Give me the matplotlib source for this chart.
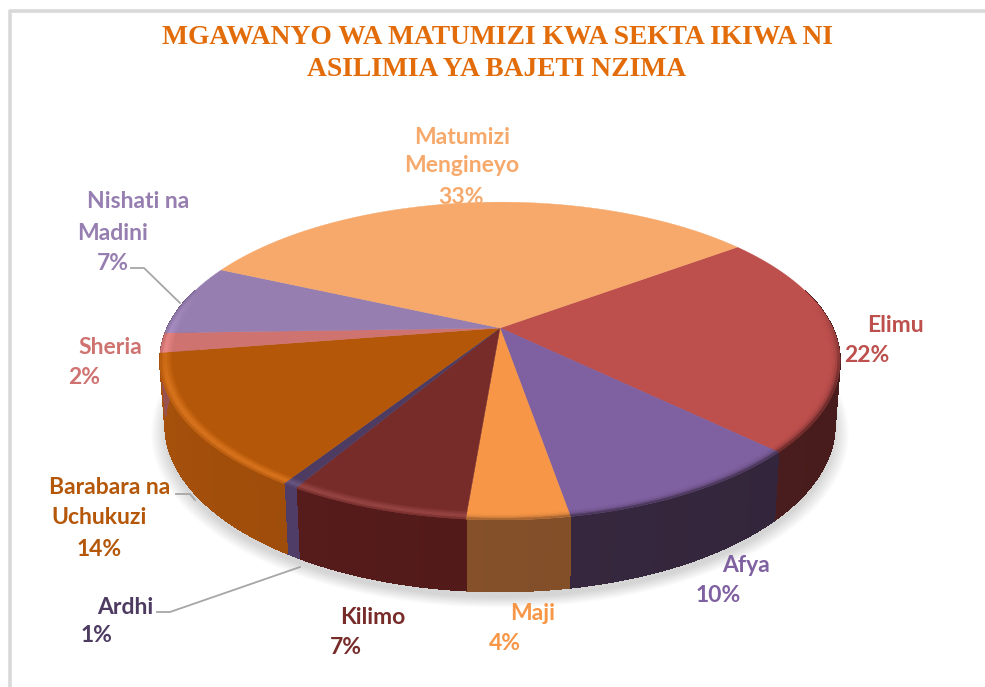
import numpy as np
from matplotlib import pyplot as plt
from matplotlib.collections import PolyCollection
from matplotlib.colors import to_rgb

# slices, clockwise from the Elimu edge
names = ['Elimu', 'Afya', 'Maji', 'Kilimo', 'Ardhi', 'Barabara na\nUchukuzi', 'Sheria', 'Nishati na\nMadini', 'Matumizi\nMengineyo']
values = [22.5, 10, 4, 7.1, 0.6, 13.5, 2, 7.3, 33]
top_colors = ['#bd4f4c', '#7f60a0', '#f79646', '#772c2a', '#4d3b62', '#b45708', '#cf7371', '#977eb0', '#f6a96b']
wall_colors = ['#4f1f1f', '#37283f', '#84502a', '#521a1a', '#4b3a63', '#97490a', '#8a4a48', '#65557a', '#a5713f']
title = 'MGAWANYO WA MATUMIZI KWA SEKTA IKIWA NI\nASILIMIA YA BAJETI NZIMA'

# label centres per text line, in pixels
label_pos = [
    [(895, 325), (867, 356)],
    [(746, 566), (718, 596)],
    [(533, 613), (505, 643)],
    [(373, 617), (346, 648)],
    [(125, 607), (97, 636)],
    [(110, 488), (99, 518), (99, 550)],
    [(110, 347), (84, 378)],
    [(138, 202), (113, 233), (113, 264)],
    [(462, 137), (462, 166), (461, 197)],
]
leaders = [
    [(131, 268), (144, 268), (180, 303)],
    [(176, 494), (190, 494), (195, 500)],
    [(157, 612), (170, 612), (300, 567)],
]

# pie placement
cx, cy = 500, 328
A, B, k = 332.6, 152, 0.2076
start = 53.3
depth = 62


def top_xy(phi, r=1.0):
    p = np.radians(phi)
    X, Y = r * np.sin(p), r * np.cos(p)
    w = 1 + k * Y
    return cx + A * X / w, cy - B * Y / w


def low_xy(phi, r=1.0):
    x, y = top_xy(phi, r)
    return cx + (x - cx) * 0.985, cy + depth + (y - cy) * 1.05


def mix(c1, c2, t):
    return tuple(np.array(c1) * (1 - t) + np.array(c2) * t)


fig = plt.figure(figsize=(9.85, 6.87), dpi=100)
ax = fig.add_axes([0, 0, 1, 1])
ax.set_xlim(0, 985)
ax.set_ylim(687, 0)
ax.axis('off')

# frame
ax.plot([10, 10, 990], [690, 11, 11], color='#d9d9d9', lw=2.6, zorder=1)

# soft shadow under the pie
all_phi = np.linspace(0, 360, 361)
for s in np.linspace(1.04, 1.0, 14):
    xs, ys = low_xy(all_phi, s)
    ax.fill(xs, ys + 6, color='k', alpha=0.011, lw=0, zorder=2)

edges = start + np.cumsum([0] + values) * 3.6

# side wall
quads, cols = [], []
for i in range(len(values)):
    phis = np.arange(edges[i], edges[i + 1] + 0.01, 0.5)
    if phis[-1] < edges[i + 1]:
        phis = np.append(phis, edges[i + 1])
    for a, b in zip(phis[:-1], phis[1:]):
        if np.cos(np.radians(a)) > 0.25 and np.cos(np.radians(b)) > 0.25:
            continue
        x1, y1 = top_xy(a)
        x2, y2 = top_xy(b)
        x3, y3 = low_xy(b)
        x4, y4 = low_xy(a)
        quads.append([(x1, y1), (x2, y2), (x3, y3), (x4, y4)])
        f = 1 - 0.1 * np.sin(np.radians((a + b) / 2))
        cols.append(tuple(np.clip(np.array(to_rgb(wall_colors[i])) * f, 0, 1)))
ax.add_collection(PolyCollection(quads, facecolors=cols, edgecolors=cols, linewidths=0.6,
                                 antialiaseds=False, zorder=3))

# top face
for i in range(len(values)):
    phis = np.linspace(edges[i], edges[i + 1], 120)
    xs, ys = top_xy(phis)
    ax.fill(np.r_[cx, xs], np.r_[cy, ys], color=top_colors[i], lw=0.3, zorder=4)

# rim bevel on the front of the top face
quads, cols = [], []
radii = np.linspace(0.962, 1.0, 7)
for i in range(len(values)):
    top = to_rgb(top_colors[i])
    wall = to_rgb(wall_colors[i])
    phis = np.linspace(edges[i], edges[i + 1], max(4, int(values[i] * 7)))
    for a, b in zip(phis[:-1], phis[1:]):
        mid = ((a + b) / 2) % 360
        if mid < 80 or mid > 285:
            continue
        for j in range(len(radii) - 1):
            u = (j + 0.5) / (len(radii) - 1)
            if i <= 2:
                # right front goes dark at the edge
                c = mix(top, wall, min(1, u ** 4) * min(1, (mid - 80) / 30))
            else:
                # left front catches light
                g = min(1, (285 - mid) / 35) * max(0, 1 - abs(u - 0.65) * 1.7)
                bright = np.clip(np.array(top) * 1.2, 0, 1)
                c = mix(mix(top, bright, g), (1, 1, 1), 0.09 * g)
                c = mix(c, wall, max(0, u - 0.85) * 3)
            x1, y1 = top_xy(a, radii[j])
            x2, y2 = top_xy(b, radii[j])
            x3, y3 = top_xy(b, radii[j + 1])
            x4, y4 = top_xy(a, radii[j + 1])
            quads.append([(x1, y1), (x2, y2), (x3, y3), (x4, y4)])
            cols.append(c)
ax.add_collection(PolyCollection(quads, facecolors=cols, edgecolors=cols, linewidths=0.3, zorder=5))

# leader lines
for pts in leaders:
    ax.plot(*zip(*pts), color='#a6a6a6', lw=1.3, zorder=6)

# labels
for i in range(len(values)):
    lines = names[i].split('\n') + [f'{values[i]:.0f}%']
    for line, (x, y) in zip(lines, label_pos[i]):
        ax.text(x, y, line, color=top_colors[i], family='Lato', fontweight='bold', fontsize=16.5,
                ha='center', va='center', zorder=7)

# title
for line, y in zip(title.split('\n'), [37, 69]):
    ax.text(497, y, line, color='#e36c0a', family='Liberation Serif', fontweight='bold', fontsize=19.8,
            ha='center', va='center', zorder=7)

plt.savefig('out.png', dpi=100)
